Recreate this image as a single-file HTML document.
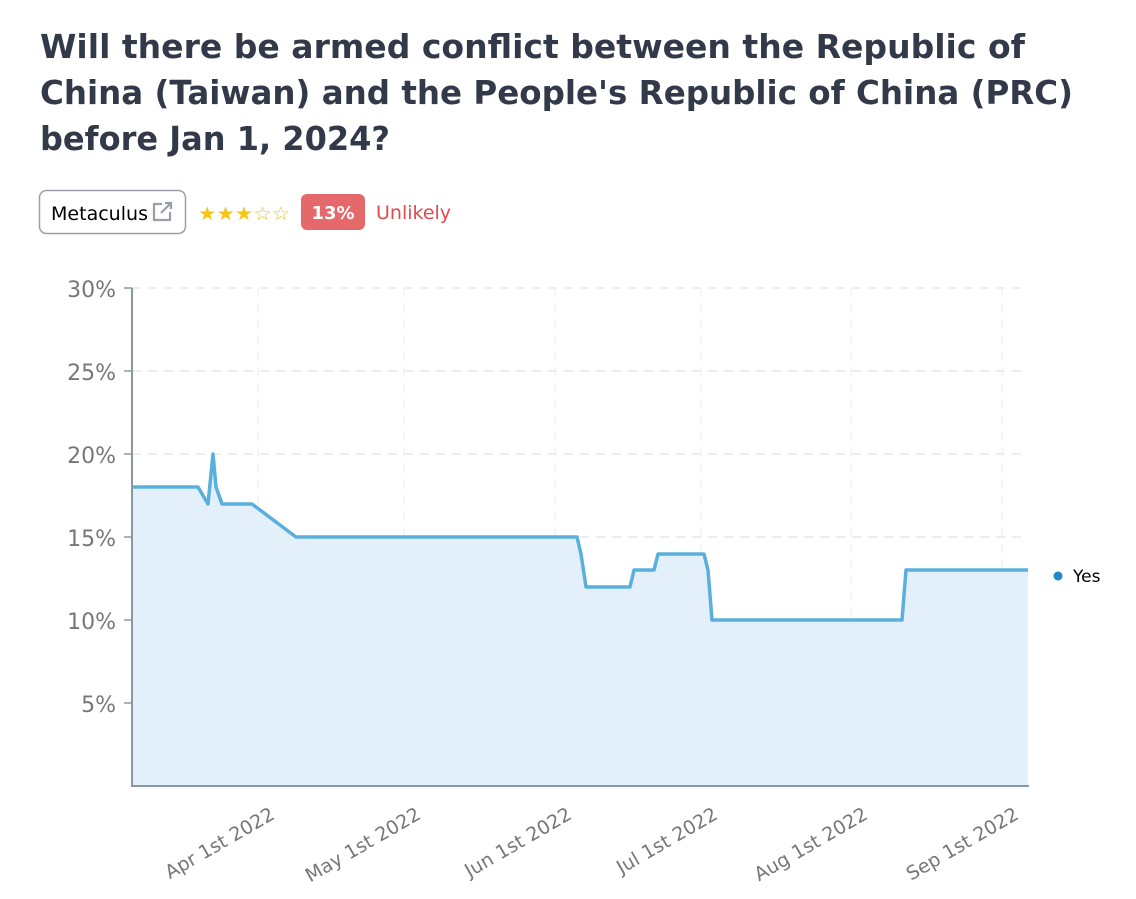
<!DOCTYPE html>
<html><head><meta charset="utf-8"><style>
html,body{margin:0;padding:0;background:#fff;}
svg{display:block;font-family:"DejaVu Sans","Liberation Sans",sans-serif;}
</style></head><body>
<svg width="1136" height="899" viewBox="0 0 1136 899" xmlns="http://www.w3.org/2000/svg">
<g fill="#323a4a" font-weight="bold" font-size="33">
<text x="40" y="58" textLength="985" lengthAdjust="spacingAndGlyphs">Will there be armed conflict between the Republic of</text>
<text x="40" y="104" textLength="1033" lengthAdjust="spacingAndGlyphs">China (Taiwan) and the People's Republic of China (PRC)</text>
<text x="40" y="150" textLength="350" lengthAdjust="spacingAndGlyphs">before Jan 1, 2024?</text>
</g>
<rect x="39.5" y="190.5" width="146" height="43" rx="7" fill="#fff" stroke="#9aa0ab" stroke-width="1.5"/>
<text x="51" y="220" font-size="19" fill="#000" textLength="97" lengthAdjust="spacingAndGlyphs">Metaculus</text>
<g stroke="#9aa0ab" stroke-width="2.2" fill="none"><path d="M162 204h-8v16h16v-8"/><path d="M161 213l10-10M165 203h6v6"/></g>
<text x="198" y="220" font-size="19" fill="#f5c518" textLength="92" lengthAdjust="spacingAndGlyphs">★★★☆☆</text>
<rect x="301" y="194" width="64" height="36" rx="6" fill="#e5686a"/>
<text x="333" y="219" font-size="18" font-weight="bold" fill="#fff" text-anchor="middle">13%</text>
<text x="376" y="219" font-size="19" fill="#e5484d">Unlikely</text>
<g stroke="#e2e2e2" stroke-width="1.2" stroke-dasharray="9,7">
<line x1="132" y1="288" x2="1028" y2="288"/><line x1="132" y1="371" x2="1028" y2="371"/><line x1="132" y1="454" x2="1028" y2="454"/><line x1="132" y1="537" x2="1028" y2="537"/><line x1="132" y1="620" x2="1028" y2="620"/><line x1="132" y1="703" x2="1028" y2="703"/>
</g>
<g stroke="#f0f0f0" stroke-width="1.2" stroke-dasharray="9,7">
<line x1="258" y1="288" x2="258" y2="786"/><line x1="404" y1="288" x2="404" y2="786"/><line x1="555" y1="288" x2="555" y2="786"/><line x1="701" y1="288" x2="701" y2="786"/><line x1="851" y1="288" x2="851" y2="786"/><line x1="1002" y1="288" x2="1002" y2="786"/>
</g>
<path d="M132 487L198 487L208 504L213 454L216 487L222 504L252 504L296 537L577 537L581 554L586 587L630 587L634 570L654 570L658 554L704 554L708 570L712 620L902 620L906 570L1028 570L1028 786L132 786Z" fill="#e3f0f9"/>
<path d="M132 487L198 487L208 504L213 454L216 487L222 504L252 504L296 537L577 537L581 554L586 587L630 587L634 570L654 570L658 554L704 554L708 570L712 620L902 620L906 570L1028 570" fill="none" stroke="#5aafdc" stroke-width="3.5" stroke-linejoin="round"/>
<line x1="132" y1="288" x2="132" y2="787" stroke="#8a98a4" stroke-width="2"/>
<line x1="131" y1="786" x2="1029" y2="786" stroke="#8a98a4" stroke-width="2"/>
<g stroke="#8a98a4" stroke-width="1.5">
<line x1="124" y1="288" x2="132" y2="288"/><line x1="124" y1="371" x2="132" y2="371"/><line x1="124" y1="454" x2="132" y2="454"/><line x1="124" y1="537" x2="132" y2="537"/><line x1="124" y1="620" x2="132" y2="620"/><line x1="124" y1="703" x2="132" y2="703"/>
</g>
<g font-size="22" fill="#777" text-anchor="end">
<text x="116" y="297">30%</text><text x="116" y="380">25%</text><text x="116" y="463">20%</text><text x="116" y="546">15%</text><text x="116" y="629">10%</text><text x="116" y="712">5%</text>
</g>
<g font-size="19" fill="#777" text-anchor="end">
<text transform="translate(276,818) rotate(-30)">Apr 1st 2022</text>
<text transform="translate(422,818) rotate(-30)">May 1st 2022</text>
<text transform="translate(573,818) rotate(-30)">Jun 1st 2022</text>
<text transform="translate(719,818) rotate(-30)">Jul 1st 2022</text>
<text transform="translate(869,818) rotate(-30)">Aug 1st 2022</text>
<text transform="translate(1020,818) rotate(-30)">Sep 1st 2022</text>
</g>
<circle cx="1058" cy="576" r="4.5" fill="#1f88c9"/>
<text x="1073" y="582" font-size="17" fill="#000">Yes</text>
</svg>
</body></html>
